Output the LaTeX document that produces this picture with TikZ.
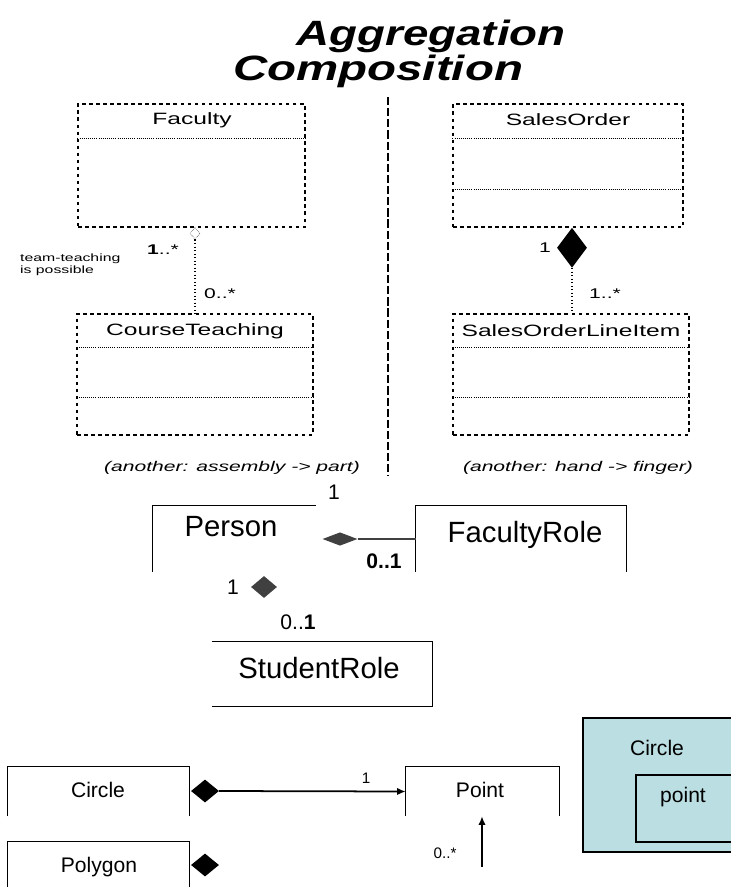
\documentclass[tikz,border=0pt]{standalone}
\usepackage{fontspec}
\setmainfont{Liberation Sans}
\usepackage{graphicx}
\usepackage{xcolor}
\usepackage{tikz}
\usetikzlibrary{arrows.meta, positioning, shapes.geometric, fit, calc}

\definecolor{tealfill}{RGB}{186,222,226}
\definecolor{diagray}{RGB}{64,64,64}
\newcommand{\hstretch}[2][1.5]{\scalebox{#1}[1]{#2}}

\begin{document}
\begin{tikzpicture}[x=0.03cm, y=-0.03cm,
  dbox/.style={draw, dashed, line width=0.9pt, inner sep=0pt, fit={#1}},
  obox/.style={inner sep=0pt, fit={#1}},
  title/.style={font=\fontsize{30}{34}\selectfont\bfseries\itshape},
  cname/.style={font=\fontsize{14}{16}\selectfont},
  mult/.style={font=\fontsize{12}{14}\selectfont},
  note/.style={font=\fontsize{12}{14}\selectfont\itshape},
  tiny/.style={font=\fontsize{9}{10}\selectfont, align=left},
  sepline/.style={densely dotted, line width=0.8pt},
  divider/.style={dash pattern=on 7pt off 2.5pt, line width=1.4pt},
  assoc/.style={dotted, line width=1pt},
  aggdia/.style={diamond, draw, densely dotted, inner sep=0pt,
                 minimum width=0.3cm, minimum height=0.36cm},
  compdia/.style={diamond, fill=black, inner sep=0pt,
                  minimum width=0.9cm, minimum height=1.2cm},
  side/.style={line width=1.1pt},
  bigname/.style={font=\fontsize{25}{28}\selectfont},
  bigmult/.style={font=\fontsize{18}{20}\selectfont},
  lbl/.style={font=\fontsize{18}{20}\selectfont},
  smult/.style={font=\fontsize{13}{15}\selectfont},
  arr/.style={-{Latex[length=2.6mm, width=2.2mm]}, line width=1.5pt}
]
  \useasboundingbox (0,0) rectangle (731,887);

  % Titles
  \node[title, anchor=base] (ttlagg) at (431,45) {\hstretch[1.3]{Aggregation}};
  \node[title, anchor=base] (ttlcomp) at (378,80) {\hstretch[1.35]{Composition}};

  % Aggregation side
  \node[dbox={(78,104) (305,227)}] (faculty) {};
  \node[cname] (facultylbl) at (192,120) {\hstretch{Faculty}};
  \draw[sepline] ($(faculty.north west)+(0,35)$) -- ($(faculty.north east)+(0,35)$);

  \node[dbox={(77,314) (313,435)}] (teach) {};
  \node[cname] (teachlbl) at (195,331) {\hstretch{CourseTeaching}};
  \draw[sepline] ($(teach.north west)+(0,34)$) -- ($(teach.north east)+(0,34)$);
  \draw[sepline] ($(teach.north west)+(0,84)$) -- ($(teach.north east)+(0,84)$);

  \node[aggdia, anchor=north] (facdia) at (195,227) {};
  \node[mult] (facmult) at (163,250) {\hstretch{\textbf{1}..*}};
  \node[mult] (teachmult) at (220,294) {\hstretch{0..*}};
  \node[tiny, anchor=west] (teamnote) at (16,265)
    {\hstretch{team-teaching}\\\hstretch{is possible}};
  \node[note] (aggnote) at (232,468) {\hstretch{(another: assembly -> part)}};

  % Divider
  \coordinate (divtop) at (388,97);
  \coordinate (divbot) at (388,476);
  \draw[divider] (divtop) -- (divbot);

  % Composition side
  \node[dbox={(453,104) (683,227)}] (sorder) {};
  \node[cname] (sorderlbl) at (568,120) {\hstretch{SalesOrder}};
  \draw[sepline] ($(sorder.north west)+(0,35)$) -- ($(sorder.north east)+(0,35)$);
  \draw[sepline] ($(sorder.north west)+(0,86)$) -- ($(sorder.north east)+(0,86)$);

  \node[dbox={(453,314) (689,435)}] (soline) {};
  \node[cname] (solinelbl) at (571,331) {\hstretch{SalesOrderLineItem}};
  \draw[sepline] ($(soline.north west)+(0,34)$) -- ($(soline.north east)+(0,34)$);
  \draw[sepline] ($(soline.north west)+(0,84)$) -- ($(soline.north east)+(0,84)$);

  \node[compdia, anchor=north] (sodia) at ($(sorder.south)+(4,0)$) {};
  \node[mult] (sordermult) at (545,248) {\hstretch{1}};
  \node[mult] (solinemult) at (605,294) {\hstretch{1..*}};
  \node[note] (compnote) at (578,468) {\hstretch{(another: hand -> finger)}};

  % wires (top)
  \draw[assoc] (facdia.south) -- (facdia.south |- teach.north);
  \draw[assoc] (sodia.south) -- (sodia.south |- soline.north);

  % Person and roles
  \node[obox={(153,506) (316,572)}] (person) {};
  \node[bigname] (personlbl) at (231,527) {Person};
  \draw[side] (person.south west) -- (person.north west) -- (person.north east);

  \node[obox={(416,506) (626,572)}] (facrole) {};
  \node[bigname] (facrolelbl) at (525,535) {FacultyRole};
  \draw[side] (facrole.south west) -- (facrole.north west) -- (facrole.north east)
    -- (facrole.south east);

  \node[obox={(212,642) (432,706)}] (studrole) {};
  \node[bigname] (studrolelbl) at (319,668) {StudentRole};
  \draw[side] (studrole.north west) -- (studrole.north east) -- (studrole.south east)
    -- (studrole.south west);

  \node[diamond, fill=diagray, inner sep=0pt, minimum width=1.05cm,
        minimum height=0.4cm] (pdia) at (340,539) {};
  \node[diamond, fill=diagray, inner sep=0pt, minimum width=0.78cm,
        minimum height=0.66cm] (sdia) at (264,587) {};
  \node[bigmult] (pmult) at (334,492) {1};
  \node[bigmult, font=\fontsize{18}{20}\selectfont\bfseries] (frmult) at (384,561) {0..1};
  \node[bigmult] (smultone) at (233,587) {1};
  \node[bigmult] (srmult) at (298,622) {0..\textbf{1}};

  \draw[diagray, line width=1.6pt] (pdia.east) -- (facrole.west);

  % Circle / Point / Polygon
  \node[obox={(8,767) (189,816)}] (circle) {};
  \node[lbl] (circlelbl) at (98,790) {Circle};
  \draw[side] (circle.south west) -- (circle.north west) -- (circle.north east)
    -- (circle.south east);

  \node[obox={(406,767) (559,816)}] (point) {};
  \node[lbl] (pointlbl) at (480,790) {Point};
  \draw[side] (point.south west) -- (point.north west) -- (point.north east)
    -- (point.south east);

  \node[obox={(8,842) (189,887)}] (polygon) {};
  \node[lbl] (polygonlbl) at (99,867) {Polygon};
  \draw[side] (polygon.south west) -- (polygon.north west) -- (polygon.north east)
    -- (polygon.south east);

  \node[diamond, fill=black, inner sep=0pt, minimum width=0.84cm,
        minimum height=0.69cm] (cdia) at (205,791) {};
  \node[diamond, fill=black, inner sep=0pt, minimum width=0.84cm,
        minimum height=0.69cm] (pgdia) at (205,865) {};
  \node[smult] (ptmult) at (366,778) {1};
  \node[smult] (pgmult) at (445,853) {0..*};

  \coordinate (pgend) at (482,867);
  \draw[arr] (cdia.east) -- (point.west);
  \draw[arr] (pgend) -- (pgend |- point.south);

  % nested notation
  \node[obox={(583,718) (745,852)}, draw, fill=tealfill, line width=1pt] (nest) {};
  \node[lbl] (nestlbl) at (657,748) {Circle};
  \node[obox={(636,775) (745,842)}, draw, fill=tealfill, line width=1pt] (nestin) {};
  \node[lbl] (nestinlbl) at (683,797) {point};
\end{tikzpicture}
\end{document}
